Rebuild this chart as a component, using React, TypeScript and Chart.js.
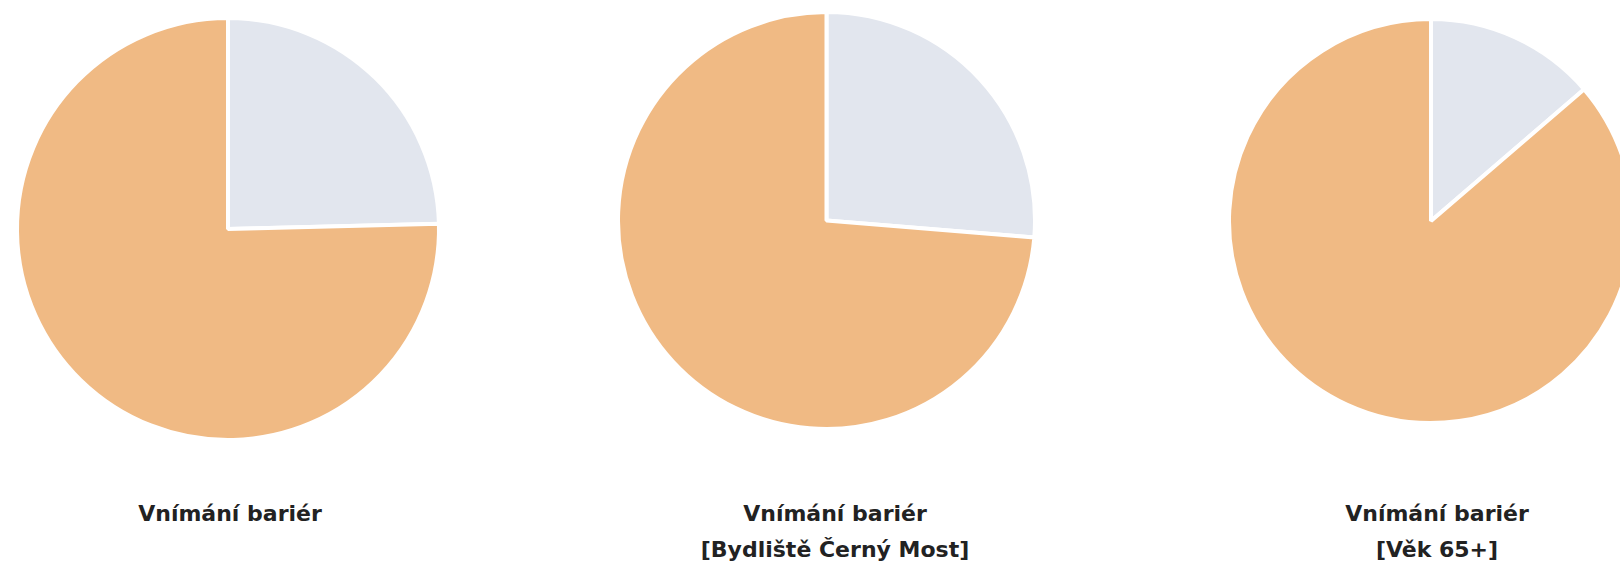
import React, { useEffect, useRef } from "react";
import { Chart, registerables } from "chart.js";

Chart.register(...registerables);

// ---- data ----
const categories = ["Ne", "Ano"];
const seriesAll = [24.6, 75.4];
const seriesCernyMost = [26.3, 73.7];
const seriesVek65 = [13.7, 86.3];
const titleAll = ["Vnímání bariér"];
const titleCernyMost = ["Vnímání bariér", "[Bydliště Černý Most]"];
const titleVek65 = ["Vnímání bariér", "[Věk 65+]"];

// ---- styles / layout ----
const COLORS = ["#E2E6EE", "#F0BA84"];
const BORDER = 4;
const panels = [
  { values: seriesAll, title: titleAll, cx: 228, cy: 229, r: 209, tx: 230 },
  { values: seriesCernyMost, title: titleCernyMost, cx: 826.5, cy: 220.5, r: 206.5, tx: 835 },
  { values: seriesVek65, title: titleVek65, cx: 1431, cy: 221, r: 200, tx: 1437 },
];

function Pie({ values, cx, cy, r }: { values: number[]; cx: number; cy: number; r: number }) {
  const ref = useRef<HTMLCanvasElement | null>(null);
  const size = Math.round(2 * (r + 6));
  useEffect(() => {
    if (!ref.current) return;
    const chart = new Chart(ref.current, {
      type: "pie",
      data: {
        labels: categories,
        datasets: [
          {
            data: values,
            backgroundColor: COLORS,
            borderColor: "#ffffff",
            borderWidth: BORDER,
            radius: r + BORDER / 2,
          } as any,
        ],
      },
      options: {
        responsive: false,
        animation: false,
        devicePixelRatio: 1,
        events: [],
        layout: { padding: 0 },
        plugins: {
          legend: { display: false },
          tooltip: { enabled: false },
          title: { display: false },
        },
      },
    });
    return () => chart.destroy();
  }, [values, r]);
  return (
    <canvas
      ref={ref}
      width={size}
      height={size}
      style={{ position: "absolute", left: cx - size / 2, top: cy - size / 2, width: size, height: size }}
    />
  );
}

export default function App() {
  return (
    <div
      style={{
        position: "absolute",
        left: 0,
        top: 0,
        width: 1620,
        height: 565,
        overflow: "hidden",
        background: "#ffffff",
      }}
    >
      {panels.map((p, i) => (
        <React.Fragment key={i}>
          <Pie values={p.values} cx={p.cx} cy={p.cy} r={p.r} />
          <div
            style={{
              position: "absolute",
              left: p.tx - 250,
              width: 500,
              top: 496,
              textAlign: "center",
              fontFamily: "'DejaVu Sans', sans-serif",
              fontWeight: 700,
              fontSize: 22,
              lineHeight: "36px",
              color: "#222222",
            }}
          >
            {p.title.map((t, j) => (
              <div key={j}>{t}</div>
            ))}
          </div>
        </React.Fragment>
      ))}
    </div>
  );
}
